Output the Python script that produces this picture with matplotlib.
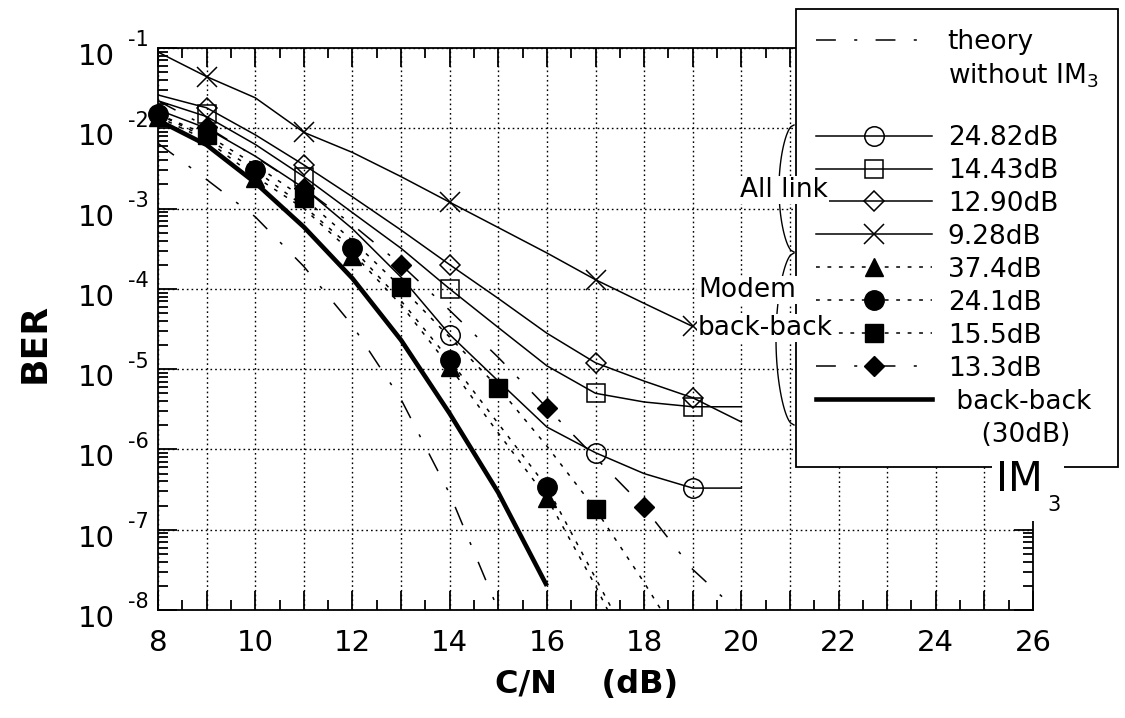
import numpy as np
import matplotlib
matplotlib.use("Agg")
import matplotlib.pyplot as plt
from matplotlib.lines import Line2D
from matplotlib.patches import Rectangle
from matplotlib.ticker import MultipleLocator, FuncFormatter, LogLocator, NullFormatter

plt.rcParams['font.family'] = ['DejaVu Sans']
plt.rcParams['mathtext.fontset'] = 'dejavusans'

# ---------------- data ----------------
# theoretical curve without IM3
cn_theory = [8, 9, 10, 11, 12, 13, 14, 15]
ber_theory = [6.5e-3, 2.3e-3, 7.9e-4, 1.9e-4, 3.5e-5, 4.2e-6, 2.8e-7, 1.0e-8]

# "All link" fitted curves (C/N grid 8..20 dB, 9.28 dB curve ends at 19 dB)
cn_link = [8, 9, 10, 11, 12, 13, 14, 15, 16, 17, 18, 19, 20]
ber_link_2482 = [1.7e-2, 1.0e-2, 4.5e-3, 1.8e-3, 5.6e-4, 1.4e-4, 2.7e-5,
                 7.1e-6, 1.9e-6, 9.1e-7, 5.0e-7, 3.3e-7, 3.3e-7]
ber_link_1443 = [2.2e-2, 1.4e-2, 6.3e-3, 2.5e-3, 8.9e-4, 3.2e-4, 1.0e-4,
                 3.3e-5, 1.1e-5, 5.0e-6, 3.9e-6, 3.4e-6, 3.4e-6]
ber_link_1290 = [2.6e-2, 1.8e-2, 8.3e-3, 3.5e-3, 1.4e-3, 5.4e-4, 2.0e-4,
                 7.6e-5, 2.8e-5, 1.2e-5, 7.1e-6, 4.4e-6, 2.2e-6]
cn_link_928 = [8, 9, 10, 11, 12, 13, 14, 15, 16, 17, 18, 19]
ber_link_928 = [8.9e-2, 4.4e-2, 2.4e-2, 8.9e-3, 5.0e-3, 2.5e-3, 1.2e-3,
                5.8e-4, 2.8e-4, 1.3e-4, 6.6e-5, 3.4e-5]

# "All link" measured points
cn_pts_2482 = [14, 17, 19]
ber_pts_2482 = [2.7e-5, 9.1e-7, 3.3e-7]
cn_pts_1443 = [9, 11, 14, 17, 19]
ber_pts_1443 = [1.5e-2, 2.5e-3, 1.0e-4, 5.0e-6, 3.4e-6]
cn_pts_1290 = [9, 11, 14, 17, 19]
ber_pts_1290 = [1.8e-2, 3.5e-3, 2.0e-4, 1.2e-5, 4.4e-6]
cn_pts_928 = [9, 11, 14, 17, 19]
ber_pts_928 = [4.4e-2, 8.9e-3, 1.2e-3, 1.3e-4, 3.4e-5]

# "Modem back-back" fitted curves
cn_mod_374 = [8, 9, 10, 11, 12, 13, 14, 15, 16, 17, 17.25]
ber_mod_374 = [1.4e-2, 7.1e-3, 2.5e-3, 1.0e-3, 2.8e-4, 6.3e-5, 1.07e-5,
               1.6e-6, 2.5e-7, 2.0e-8, 1.0e-8]
cn_mod_241 = [8, 9, 10, 11, 12, 13, 14, 15, 16, 17, 17.35]
ber_mod_241 = [1.5e-2, 7.6e-3, 3.0e-3, 1.07e-3, 3.2e-4, 7.1e-5, 1.3e-5,
               2.1e-6, 3.4e-7, 2.5e-8, 1.0e-8]
cn_mod_155 = [8, 9, 10, 11, 12, 13, 14, 15, 16, 17, 18, 18.35]
ber_mod_155 = [1.5e-2, 8.3e-3, 3.5e-3, 1.35e-3, 4.0e-4, 1.05e-4, 2.5e-5,
               5.9e-6, 1.1e-6, 1.8e-7, 2.2e-8, 1.0e-8]
cn_mod_133 = [8, 9, 10, 11, 12, 13, 14, 15, 16, 17, 18, 19, 19.9]
ber_mod_133 = [2.2e-2, 1.05e-2, 4.4e-3, 1.8e-3, 6.3e-4, 2.0e-4, 5.4e-5,
               1.4e-5, 3.3e-6, 7.9e-7, 1.9e-7, 3.2e-8, 1.0e-8]

# "Modem back-back" measured points
cn_pts_374 = [8, 10, 12, 14, 16]
ber_pts_374 = [1.4e-2, 2.4e-3, 2.6e-4, 1.07e-5, 2.5e-7]
cn_pts_241 = [8, 10, 12, 14, 16]
ber_pts_241 = [1.5e-2, 3.0e-3, 3.2e-4, 1.3e-5, 3.4e-7]
cn_pts_155 = [9, 11, 13, 15, 17]
ber_pts_155 = [8.3e-3, 1.35e-3, 1.05e-4, 5.9e-6, 1.8e-7]
cn_pts_133 = [9, 11, 13, 16, 18]
ber_pts_133 = [1.05e-2, 1.8e-3, 2.0e-4, 3.3e-6, 1.9e-7]

# back-back reference (30 dB)
cn_bb = [8, 9, 10, 11, 12, 13, 14, 15, 16]
ber_bb = [1.26e-2, 6.2e-3, 2.1e-3, 5.9e-4, 1.35e-4, 2.3e-5, 2.8e-6, 2.9e-7, 2.0e-8]

labels_link = ["24.82dB", "14.43dB", "12.90dB", "9.28dB"]
labels_mod = ["37.4dB", "24.1dB", "15.5dB", "13.3dB"]

# ---------------- figure ----------------
W, H = 1125, 718
fig = plt.figure(figsize=(W / 100, H / 100), dpi=100)
ax = fig.add_axes([158 / W, 1 - 610 / H, (1033 - 158) / W, (610 - 48) / H])


def fx(px):
    return px / W


def fy(py):
    return 1 - py / H


K = 'black'
FS = 19
lw_thin = 1.1
dash_long_short = (0, (13, 12, 2, 12))
dash_short = (0, (2.5, 5))
ms_big = 14

# theory
ax.plot(cn_theory, ber_theory, color=K, lw=lw_thin, ls=dash_long_short, zorder=2)

# All link curves + points
link_lines = [(cn_link, ber_link_2482), (cn_link, ber_link_1443),
              (cn_link, ber_link_1290), (cn_link_928, ber_link_928)]
link_pts = [(cn_pts_2482, ber_pts_2482, 'o', ms_big),
            (cn_pts_1443, ber_pts_1443, 's', 13.5),
            (cn_pts_1290, ber_pts_1290, 'D', 9.8),
            (cn_pts_928, ber_pts_928, 'x', 14)]
link_handles = []
for (cx, cy), (px_, py_, mk, ms) in zip(link_lines, link_pts):
    ax.plot(cx, cy, color=K, lw=lw_thin, ls='-', zorder=2)
    ax.plot(px_, py_, ls='none', marker=mk, ms=ms, mfc='none', mec=K, mew=1.1,
            clip_on=False, zorder=3)
    link_handles.append(Line2D([], [], color=K, lw=lw_thin, ls='-', marker=mk, ms=ms,
                               mfc='none', mec=K, mew=1.1))

# Modem back-back curves + points
mod_lines = [(cn_mod_374, ber_mod_374, dash_short), (cn_mod_241, ber_mod_241, dash_short),
             (cn_mod_155, ber_mod_155, dash_short), (cn_mod_133, ber_mod_133, dash_long_short)]
mod_pts = [(cn_pts_374, ber_pts_374, '^', 13.5),
           (cn_pts_241, ber_pts_241, 'o', ms_big),
           (cn_pts_155, ber_pts_155, 's', 13.5),
           (cn_pts_133, ber_pts_133, 'D', 9.8)]
mod_handles = []
for (cx, cy, ls), (px_, py_, mk, ms) in zip(mod_lines, mod_pts):
    ax.plot(cx, cy, color=K, lw=lw_thin, ls=ls, zorder=2)
    ax.plot(px_, py_, ls='none', marker=mk, ms=ms, mfc=K, mec=K, mew=1.0,
            clip_on=False, zorder=3)
    mod_handles.append(Line2D([], [], color=K, lw=lw_thin, ls=ls, marker=mk, ms=ms,
                              mfc=K, mec=K))

# back-back
ax.plot(cn_bb, ber_bb, color=K, lw=3.3, solid_capstyle='butt', zorder=2)

# ---------------- axes ----------------
ax.set_yscale('log')
ax.set_xlim(8, 26)
ax.set_ylim(1e-8, 1e-1)
ax.xaxis.set_major_locator(MultipleLocator(1))
ax.xaxis.set_minor_locator(MultipleLocator(0.5))
ax.xaxis.set_major_formatter(FuncFormatter(
    lambda v, p: f"{int(round(v))}" if int(round(v)) % 2 == 0 else ""))
ax.yaxis.set_major_locator(LogLocator(base=10, numticks=20))
ax.yaxis.set_minor_locator(LogLocator(base=10, subs=np.arange(2, 10), numticks=100))
ax.yaxis.set_minor_formatter(NullFormatter())
ax.yaxis.set_major_formatter(NullFormatter())

ax.tick_params(which='both', direction='in', top=True, right=True, width=1.3,
               labelsize=21, color=K)
ax.tick_params(which='major', length=14)
ax.tick_params(which='minor', length=7)
ax.tick_params(axis='x', which='major', pad=14)
for s in ax.spines.values():
    s.set_linewidth(1.3)
ax.grid(True, which='major', color=K, ls=(0, (1.2, 2.2)), lw=1.0)

# decade labels: "10" with a raised exponent
for v in ax.get_yticks():
    if not (1e-8 * 0.99 <= v <= 1e-1 * 1.01):
        continue
    e = int(round(np.log10(v)))
    ax.annotate("10", xy=(0, v), xycoords=('axes fraction', 'data'),
                xytext=(-31, -6.5), textcoords='offset points',
                ha='right', va='center', fontsize=21)
    ax.annotate(f"-{abs(e)}", xy=(0, v), xycoords=('axes fraction', 'data'),
                xytext=(-21.5, 5.5), textcoords='offset points',
                ha='left', va='center', fontsize=15)

ax.set_xlabel("C/N    (dB)", fontsize=23, fontweight='bold')
ax.xaxis.set_label_coords(0.49, -0.105)
ax.set_ylabel("BER", fontsize=26, fontweight='bold')
ax.yaxis.set_label_coords(-0.121, 0.475)

# ---------------- legend ----------------
blank = Line2D([], [], ls='none')
theory_h = Line2D([], [], color=K, lw=lw_thin, ls=dash_long_short)
bb_h = Line2D([], [], color=K, lw=3.3)
handles = [theory_h, blank, blank] + link_handles + mod_handles + [bb_h, blank]
labels = ["theory", r"without IM$_3$", " "] + labels_link + labels_mod + \
         [" back-back", "    (30dB)"]
leg = ax.legend(handles, labels, loc='upper left', bbox_to_anchor=(fx(796), fy(9)),
                bbox_transform=fig.transFigure, borderaxespad=0, fontsize=FS,
                frameon=True, fancybox=False, framealpha=1, edgecolor=K,
                handlelength=4.4, handletextpad=0.6, labelspacing=0.265,
                borderpad=0.75, numpoints=1)
leg.get_frame().set_linewidth(1.3)
leg.get_texts()[2].set_fontsize(6)
leg.set_zorder(5)

# ---------------- annotations ----------------
def bracket(y_top, y_bot, x_right, depth):
    t = np.linspace(0, 1, 80)
    y = y_top + (y_bot - y_top) * t
    x = x_right - depth * np.sin(np.pi * t) ** 0.5
    fig.add_artist(Line2D(fx(x), fy(y), color=K, lw=1.0, transform=fig.transFigure,
                          zorder=6))


bracket(125, 252, 794, 15)
bracket(253, 425, 794, 18)

tb = dict(facecolor='white', edgecolor='none', pad=1.0)
fig.text(fx(740), fy(197), "All link", fontsize=FS, va='baseline', ha='left',
         bbox=tb, zorder=8)
fig.text(fx(698), fy(297), "Modem", fontsize=FS, va='baseline', ha='left',
         bbox=tb, zorder=8)
fig.text(fx(698), fy(335), "back-back", fontsize=FS, va='baseline', ha='left',
         bbox=tb, zorder=8)

fig.patches.append(Rectangle((fx(992), fy(521)), fx(1064) - fx(992), fy(462) - fy(521),
                             transform=fig.transFigure, facecolor='white',
                             edgecolor='none', zorder=7))
fig.text(fx(996), fy(491), "IM", fontsize=29, va='baseline', ha='left', zorder=8)
fig.text(fx(1047), fy(511), "3", fontsize=15, va='baseline', ha='left', zorder=8)

fig.savefig("out.png", dpi=100)
